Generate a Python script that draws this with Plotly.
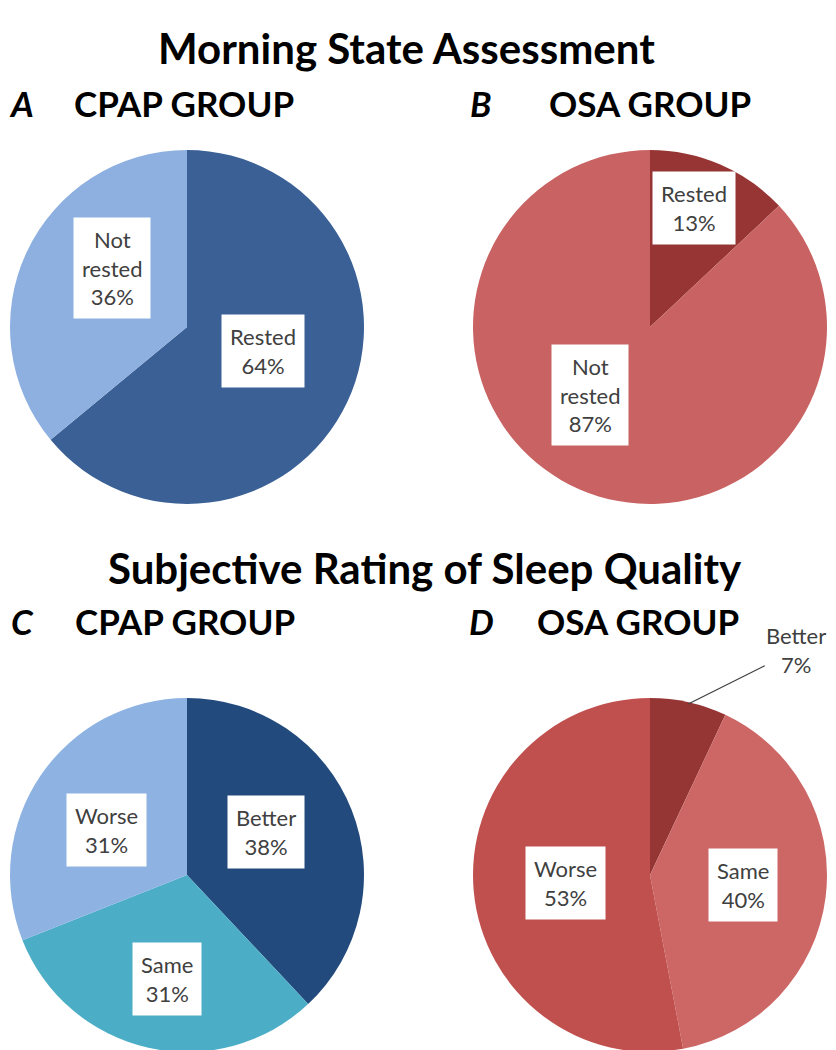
import math
import plotly.graph_objects as go

W, H = 836, 1050

# ---------------- data ----------------
morning_labels = ["Rested", "Not rested"]
cpap_morning = [64, 36]
osa_morning = [13, 87]

sleep_labels = ["Better", "Same", "Worse"]
cpap_sleep = [38, 31, 31]
osa_sleep = [7, 40, 53]

section_titles = ["Morning State Assessment", "Subjective Rating of Sleep Quality"]
panel_letters = ["A", "B", "C", "D"]
group_names = ["CPAP GROUP", "OSA GROUP", "CPAP GROUP", "OSA GROUP"]

# ---------------- styles / layout ----------------
panels = [
    dict(labels=morning_labels, values=cpap_morning,
         colors=["#3A6096", "#8DB0E0"], c=(179, 319), r=177,
         frac=[0.45, 0.54], shift=[-8, 13]),
    dict(labels=morning_labels, values=osa_morning,
         colors=["#973434", "#C96363"], c=(642, 319), r=177,
         frac=[0.72, 0.51], shift=[-3, 18]),
    dict(labels=sleep_labels, values=cpap_sleep,
         colors=["#234A7D", "#4BADC6", "#8EB3E3"], c=(179, 867), r=177,
         frac=[0.51, 0.60, 0.52], shift=[-7, -2, -5]),
    dict(labels=sleep_labels, values=osa_sleep,
         colors=["#953635", "#CD6766", "#C0504E"], c=(642, 867), r=177,
         frac=[None, 0.53, 0.48], shift=[0, -1, 0]),
]

FAM = "Lato, 'Open Sans', sans-serif"
LABEL_FONT = dict(family=FAM, size=22, color="#404040")
TITLE_FONT = dict(family=FAM, size=42, color="#000000", weight="bold")
GROUP_FONT = dict(family=FAM, size=35, color="#000000", weight="bold")
LETTER_FONT = dict(family=FAM, size=35, color="#000000", weight="bold", style="italic")

fig = go.Figure()
annotations = []

def px_to_paper(x, y):
    return x / W, 1 - y / H

for p in panels:
    cx, cy = p["c"]
    r = p["r"]
    x0, y0 = px_to_paper(cx - r, cy + r)
    x1, y1 = px_to_paper(cx + r, cy - r)
    fig.add_trace(go.Pie(
        labels=p["labels"], values=p["values"],
        marker=dict(colors=p["colors"], line=dict(width=0)),
        sort=False, direction="clockwise", rotation=0,
        textinfo="none", hoverinfo="label+percent",
        showlegend=False,
        domain=dict(x=[x0, x1], y=[y0, y1]),
    ))
    total = sum(p["values"])
    cum = 0
    for lab, v, f, s in zip(p["labels"], p["values"], p["frac"], p["shift"]):
        mid = (cum + v / 2) / total * 360
        cum += v
        text = lab.replace(" ", "<br>") + "<br>" + f"{round(v / total * 100)}%"
        if f is None:
            # outside label with leader line
            th = math.radians(mid)
            hx, hy = cx + 0.99 * r * math.sin(th), cy - 0.99 * r * math.cos(th)
            ax_, ay_ = px_to_paper(hx, hy)
            annotations.append(dict(
                x=ax_, y=ay_, xref="paper", yref="paper",
                text=text, font=LABEL_FONT, showarrow=True,
                arrowhead=0, arrowwidth=1.3, arrowcolor="#404040",
                ax=108, ay=-54, axref="pixel", ayref="pixel", standoff=0,
                align="center",
            ))
        else:
            th = math.radians(mid + s)
            lx, ly = cx + f * r * math.sin(th), cy - f * r * math.cos(th)
            px_, py_ = px_to_paper(lx, ly)
            annotations.append(dict(
                x=px_, y=py_, xref="paper", yref="paper",
                text=text, font=LABEL_FONT, showarrow=False,
                bgcolor="#FFFFFF", borderpad=8, align="center",
                xanchor="center", yanchor="middle",
            ))

# Section titles
for t, (tx, ty) in zip(section_titles, [(398, 40), (417, 560)]):
    x, y = px_to_paper(tx, ty)
    annotations.append(dict(x=x, y=y, xref="paper", yref="paper", text=t,
                            font=TITLE_FONT, showarrow=False,
                            xanchor="center", yanchor="middle"))

# Panel letters and group names
letter_pos = [(13, 95), (473, 95), (14, 613), (473, 613)]
group_pos = [(176, 95), (642, 95), (177, 613), (630, 613)]
for L, (lx, ly) in zip(panel_letters, letter_pos):
    x, y = px_to_paper(lx, ly)
    annotations.append(dict(x=x, y=y, xref="paper", yref="paper", text=L,
                            font=LETTER_FONT, showarrow=False,
                            xanchor="center", yanchor="middle"))
for g, (gx, gy) in zip(group_names, group_pos):
    x, y = px_to_paper(gx, gy)
    annotations.append(dict(x=x, y=y, xref="paper", yref="paper", text=g,
                            font=GROUP_FONT, showarrow=False,
                            xanchor="center", yanchor="middle"))

fig.update_layout(
    width=W, height=H,
    margin=dict(l=0, r=0, t=0, b=0),
    paper_bgcolor="#FFFFFF", plot_bgcolor="#FFFFFF",
    annotations=annotations,
    showlegend=False,
)

fig.write_html("out.html")
